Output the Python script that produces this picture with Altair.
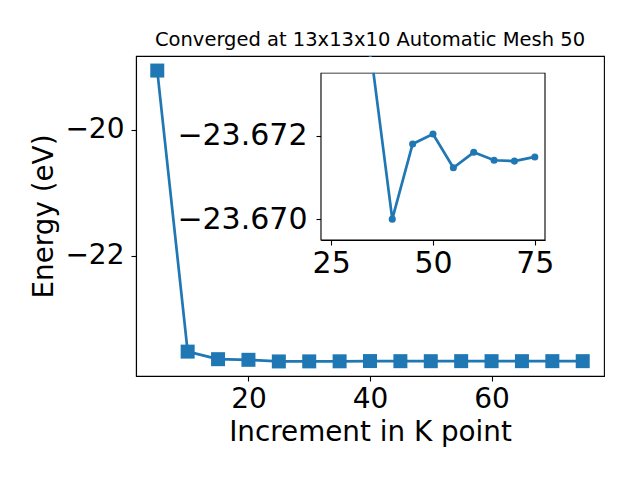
import altair as alt
import pandas as pd

# ---------------- data ----------------
k_points = [5, 10, 15, 20, 25, 30, 35, 40, 45, 50, 55, 60, 65, 70, 75]
energies = [-19.06, -23.52, -23.64, -23.65, -23.676, -23.675, -23.6738, -23.6700,
            -23.6718, -23.67204, -23.67123, -23.6716, -23.67141, -23.67139, -23.67149]

main_x_lim = [1.5, 78.5]
main_y_lim = [-23.907, -18.829]
main_x_ticks = [20, 40, 60]
main_y_ticks = [-22, -20]

inset_start = 25
inset_x_lim = [22.5, 77.5]
inset_y_lim = [-23.6735, -23.6695]
inset_x_ticks = [25, 50, 75]
inset_y_ticks = [-23.672, -23.670]

title_text = "Converged at 13x13x10 Automatic Mesh 50"
x_title = "Increment in K point"
y_title = "Energy (eV)"

# ---------------- layout / style ----------------
W, H = 468, 320
INSET_X_RANGE = [185, 409]
INSET_Y_RANGE = [17, 184]
C = "#1f77b4"
FONT = "DejaVu Sans"
TICK_FS = 28
INSET_TICK_FS = 30
TITLE_FS = 27.8

df = pd.DataFrame({"k": k_points, "E": energies})
inset_df = df[df.k >= inset_start]
frame_df = pd.DataFrame({"x0": [inset_x_lim[0]], "x1": [inset_x_lim[1]],
                         "y0": [inset_y_lim[0]], "y1": [inset_y_lim[1]]})

# ---------------- main plot ----------------
main_x_axis = alt.Axis(values=main_x_ticks, format="d", title=x_title,
                       labelFontSize=TICK_FS, titleFontSize=TITLE_FS,
                       labelPadding=4, titlePadding=5)
main_y_axis = alt.Axis(values=main_y_ticks, format="d", title=y_title,
                       labelFontSize=TICK_FS, titleFontSize=TITLE_FS,
                       labelPadding=7, titlePadding=6)
mx = alt.X("k:Q", scale=alt.Scale(domain=main_x_lim, nice=False, zero=False), axis=main_x_axis)
my = alt.Y("E:Q", scale=alt.Scale(domain=main_y_lim, nice=False, zero=False), axis=main_y_axis)

main_line = alt.Chart(df).mark_line(color=C, strokeWidth=2.7).encode(x=mx, y=my)
main_pts = alt.Chart(df).mark_point(shape="square", filled=True, size=196,
                                    opacity=1, color=C).encode(x=mx, y=my)
main = alt.layer(main_line, main_pts)

# ---------------- inset ----------------
in_x_scale = alt.Scale(domain=inset_x_lim, range=INSET_X_RANGE, nice=False, zero=False)
in_y_scale = alt.Scale(domain=inset_y_lim, range=INSET_Y_RANGE, nice=False, zero=False)
in_x_axis = alt.Axis(values=inset_x_ticks, format="d", title=None, orient="bottom",
                     offset=-(H - INSET_Y_RANGE[1]), labelFontSize=INSET_TICK_FS, labelPadding=3)
in_y_axis = alt.Axis(values=inset_y_ticks, format=".3f", title=None, orient="left",
                     offset=-INSET_X_RANGE[0], labelFontSize=INSET_TICK_FS, labelPadding=9)

frame = alt.Chart(frame_df).mark_rect(fill="white", stroke="black", strokeWidth=1.1).encode(
    x=alt.X("x0:Q", scale=in_x_scale, axis=in_x_axis), x2="x1",
    y=alt.Y("y0:Q", scale=in_y_scale, axis=in_y_axis), y2="y1")
ix = alt.X("k:Q", scale=in_x_scale, axis=in_x_axis)
iy = alt.Y("E:Q", scale=in_y_scale, axis=in_y_axis)
in_line = alt.Chart(inset_df).mark_line(color=C, strokeWidth=2.7, clip=True).encode(x=ix, y=iy)
in_pts = alt.Chart(inset_df).mark_circle(color=C, size=50, opacity=1, clip=True).encode(x=ix, y=iy)
cover = alt.Chart(frame_df).mark_rect(fill="white").encode(
    x=alt.value(INSET_X_RANGE[0] - 2), x2=alt.value(INSET_X_RANGE[1] + 2),
    y=alt.value(1), y2=alt.value(INSET_Y_RANGE[0] - 0.6))
inset = alt.layer(frame, in_line, in_pts, cover)

chart = alt.layer(main, inset).resolve_scale(x="independent", y="independent").properties(
    width=W, height=H,
    title=alt.TitleParams(title_text, fontSize=19.5, font=FONT, fontWeight="normal",
                          color="black", anchor="middle", offset=6),
    autosize=alt.AutoSizeParams(type="none"),
    padding={"left": 128, "top": 48, "right": 20, "bottom": 90},
).configure_view(stroke="black", strokeWidth=1.1).configure_axis(
    grid=False, domainColor="black", domainWidth=1.1, tickColor="black", tickWidth=1.1,
    tickSize=5, labelColor="black", titleColor="black", labelFont=FONT, titleFont=FONT,
    titleFontWeight="normal",
)

chart.save("out.html", embed_options={"renderer": "svg", "actions": False})
